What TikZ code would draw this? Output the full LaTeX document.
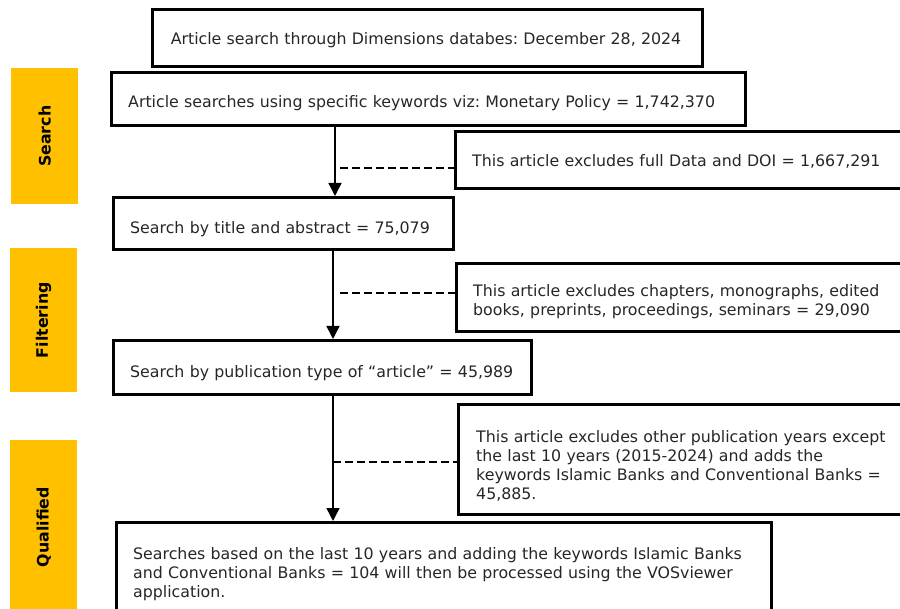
\documentclass[tikz,border=0pt]{standalone}
\usepackage{fontspec}
\setmainfont{DejaVu Sans}
\frenchspacing
\usetikzlibrary{arrows.meta}
\definecolor{phase}{HTML}{FFC000}
\definecolor{txt}{HTML}{262626}
\tikzset{
  stepbox/.style={draw=black, line width=3pt, anchor=north west, inner sep=0pt},
  steptext/.style={anchor=base west, inner sep=0pt, align=left, text width=440pt,
    text=txt, font=\fontsize{15.8}{19}\selectfont},
  phasebox/.style={fill=phase, draw=none, anchor=north west, inner sep=0pt},
  phaselabel/.style={rotate=90, inner sep=0pt, font=\bfseries\fontsize{15.8}{18}\selectfont, text=black},
  arrowline/.style={line width=1.5pt, -{Triangle[length=13pt,width=13pt]}},
  dashline/.style={line width=2pt, dash pattern=on 8pt off 4pt}
}
\begin{document}
\begin{tikzpicture}[x=1pt,y=-1pt]
\useasboundingbox (0,0) rectangle (900,609);
\clip (0,0) rectangle (900,609);
% phase labels
\node[phasebox, minimum width=67pt, minimum height=136pt] (ps) at (11,68) {};
\node[phaselabel] (pst) at (ps.center) {Search};
\node[phasebox, minimum width=67pt, minimum height=144pt] (pf) at (10,248) {};
\node[phaselabel] (pft) at (pf.center) {Filtering};
\node[phasebox, minimum width=67pt, minimum height=174pt] (pq) at (10,440) {};
\node[phaselabel] (pqt) at (pq.center) {Qualified};
% boxes
\node[stepbox, minimum width=550pt, minimum height=57pt] (b1) at (151,8) {};
\node[stepbox, minimum width=634pt, minimum height=53pt] (b2) at (109.5,71.5) {};
\node[stepbox, minimum width=460pt, minimum height=57pt] (b3) at (454,130) {};
\node[stepbox, minimum width=340pt, minimum height=52pt] (b4) at (112,196) {};
\node[stepbox, minimum width=460pt, minimum height=68pt] (b5) at (455,262) {};
\node[stepbox, minimum width=418pt, minimum height=54pt] (b6) at (112,339) {};
\node[stepbox, minimum width=460pt, minimum height=110pt] (b7) at (457,403) {};
\node[stepbox, minimum width=655pt, minimum height=110pt] (b8) at (115,521) {};
% texts
\node[steptext, anchor=base, align=center, text width=540pt] (t1) at (426,45) {Article search through Dimensions databes: December 28, 2024};
\node[steptext, text width=620pt] (t2) at (128,108) {Article searches using specific keywords viz: Monetary Policy = 1,742,370};
\node[steptext] (t3) at (472,167) {This article excludes full Data and DOI = 1,667,291};
\node[steptext] (t4) at (130,234) {Search by title and abstract = 75,079};
\node[steptext] (t5) at (473,296.5) {This article excludes chapters, monographs, edited\\books, preprints, proceedings, seminars = 29,090};
\node[steptext] (t6) at (130,378) {Search by publication type of “article” = 45,989};
\node[steptext] (t7) at (476,442.5) {This article excludes other publication years except\\the last 10 years (2015-2024) and adds the\\keywords Islamic Banks and Conventional Banks =\\45,885.};
\node[steptext, text width=640pt] (t8) at (133,559.5) {Searches based on the last 10 years and adding the keywords Islamic Banks\\and Conventional Banks = 104 will then be processed using the VOSviewer\\application.};
% connectors
\coordinate (a1) at (335,0);
\coordinate (a2) at (333,0);
\coordinate (a3) at (333,0);
\draw[arrowline] (b2.south -| a1) -- (b4.north -| a1);
\draw[arrowline] (b4.south -| a2) -- (b6.north -| a2);
\draw[arrowline] (b6.south -| a3) -- (b8.north -| a3);
\coordinate (d1) at (340,168.3);
\coordinate (d2) at (340,293.3);
\coordinate (d3) at (333,462.5);
\draw[dashline] (d1) -- (b3.west |- d1);
\draw[dashline] (d2) -- (b5.west |- d2);
\draw[dashline] (d3) -- (b7.west |- d3);
\end{tikzpicture}
\end{document}
